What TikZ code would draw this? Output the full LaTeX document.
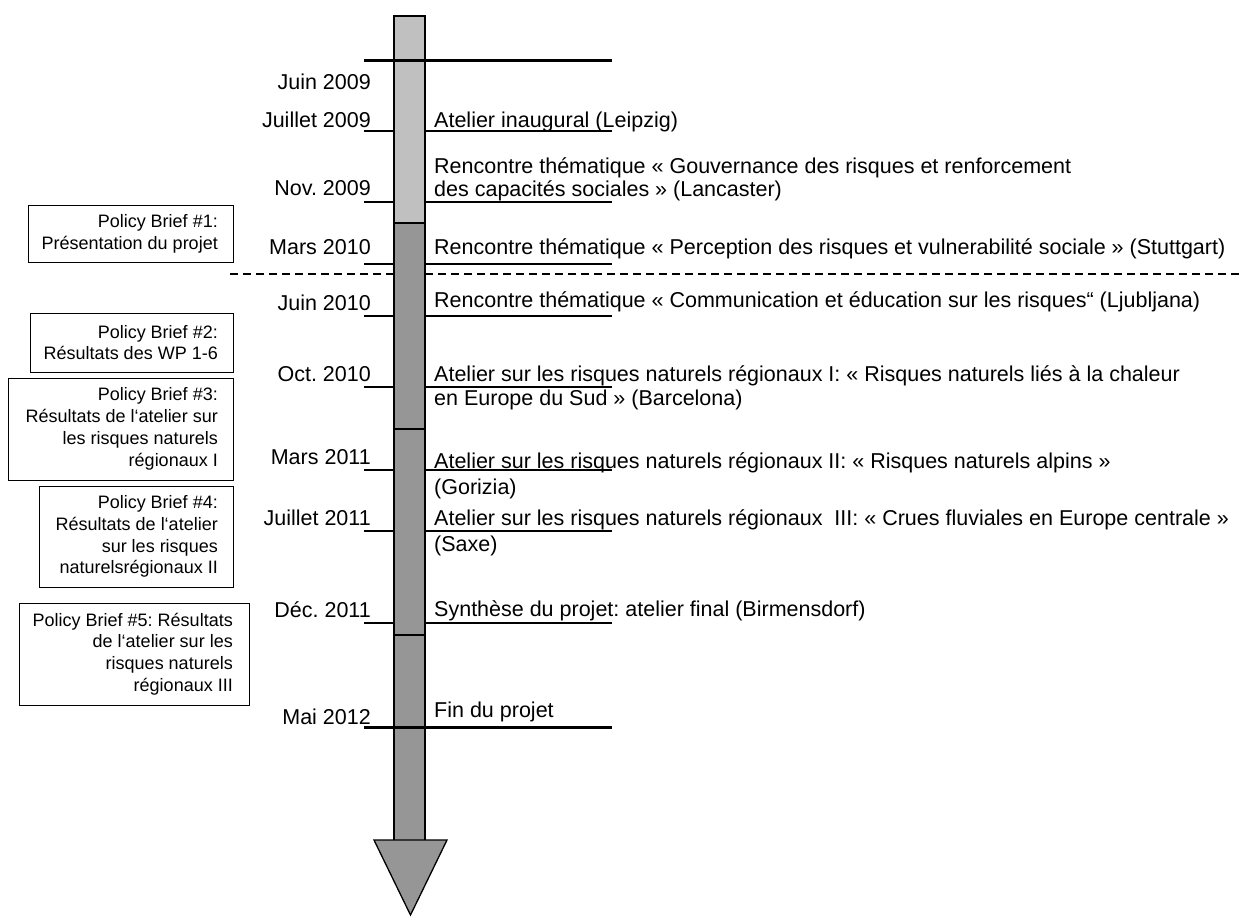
\documentclass[tikz,border=0pt]{standalone}
\usepackage{fontspec}
\setmainfont{Liberation Sans}
\definecolor{lightbar}{RGB}{192,192,192}
\definecolor{darkbar}{RGB}{150,150,150}
\frenchspacing
\begin{document}
\begin{tikzpicture}[x=1pt,y=-1pt,
  datelbl/.style={anchor=base east, inner sep=0pt, font=\fontsize{21.5}{22}\selectfont},
  evt/.style={anchor=base west, inner sep=0pt, align=left, font=\fontsize{21.5}{22.5}\selectfont},
  briefbox/.style={line width=1pt},
  brief/.style={anchor=east, align=right, inner sep=0pt, font=\fontsize{18}{21.8}\selectfont},
  tick/.style={line width=1.1pt},
  thick/.style={line width=3pt},
  barline/.style={line width=1.3pt}]
\useasboundingbox (0,0) rectangle (1239,916);
% dashed separator
\draw[line width=1.3pt, dash pattern=on 8pt off 5pt] (230,274) -- (1239,274);
% ticks
\foreach \y in {131,202,264,316,387,470,531,623}{
  \draw[tick] (364,\y) -- (612,\y);
}
% bar
\fill[lightbar] (394,16) rectangle (425,223);
\fill[darkbar] (394,223) rectangle (425,840);
\draw[barline] (394,223) -- (425,223);
\draw[barline] (394,429) -- (425,429);
\draw[barline] (394,635) -- (425,635);
\draw[barline] (394,840) -- (394,16) -- (425,16) -- (425,840);
\draw[barline, fill=darkbar, line join=miter] (374,840) -- (447,840) -- (410.5,915) -- cycle;
% thick lines
\draw[thick] (364,60) -- (612,60);
\draw[thick] (364,727) -- (612,727);
% dates
\node[datelbl] (d1) at (371,89) {Juin 2009};
\node[datelbl] (d2) at (371,127) {Juillet 2009};
\node[datelbl] (d3) at (371,195) {Nov. 2009};
\node[datelbl] (d4) at (371,254) {Mars 2010};
\node[datelbl] (d5) at (371,310) {Juin 2010};
\node[datelbl] (d6) at (371,381) {Oct. 2010};
\node[datelbl] (d7) at (371,464) {Mars 2011};
\node[datelbl] (d8) at (371,525) {Juillet 2011};
\node[datelbl] (d9) at (371,617) {Déc. 2011};
\node[datelbl] (d10) at (371,724) {Mai 2012};
% events (multi-line nodes: base anchor is on the last line)
\node[evt] (e1) at (434,127) {Atelier inaugural (Leipzig)};
\node[evt] (e2) at (434,196) {Rencontre thématique « Gouvernance des risques et renforcement\\des capacités sociales » (Lancaster)};
\node[evt] (e3) at (434,254) {Rencontre thématique « Perception des risques et vulnerabilité sociale » (Stuttgart)};
\node[evt] (e4) at (434,307) {Rencontre thématique « Communication et éducation sur les risques“ (Ljubljana)};
\node[evt] (e5) at (434,405) {Atelier sur les risques naturels régionaux I: « Risques naturels liés à la chaleur\\[1.5pt]en Europe du Sud » (Barcelona)};
\node[evt] (e6) at (434,494) {Atelier sur les risques naturels régionaux II: « Risques naturels alpins »\\[3.5pt](Gorizia)};
\node[evt] (e7) at (434,551) {Atelier sur les risques naturels régionaux\ \ III: « Crues fluviales en Europe centrale »\\[3.5pt](Saxe)};
\node[evt] (e8) at (434,616) {Synthèse du projet: atelier final (Birmensdorf)};
\node[evt] (e9) at (434,717) {Fin du projet};
% policy briefs
\draw[briefbox] (28,205) rectangle (233,262);
\node[brief] (b1) at (218,233.5) {Policy Brief \#1:\\Présentation du projet};
\draw[briefbox] (30,313) rectangle (233,372);
\node[brief] (b2) at (218,342.5) {Policy Brief \#2:\\Résultats des WP 1-6};
\draw[briefbox] (8,378) rectangle (233,480);
\node[brief] (b3) at (218,429) {Policy Brief \#3:\\Résultats de l‘atelier sur\\les risques naturels\\régionaux I};
\draw[briefbox] (39,486) rectangle (233,587);
\node[brief] (b4) at (218,536.5) {Policy Brief \#4:\\Résultats de l‘atelier\\sur les risques\\naturelsrégionaux II};
\draw[briefbox] (19,603) rectangle (249,705);
\node[brief] (b5) at (233,654) {Policy Brief \#5: Résultats\\de l‘atelier sur les\\risques naturels\\régionaux III};
\end{tikzpicture}
\end{document}
